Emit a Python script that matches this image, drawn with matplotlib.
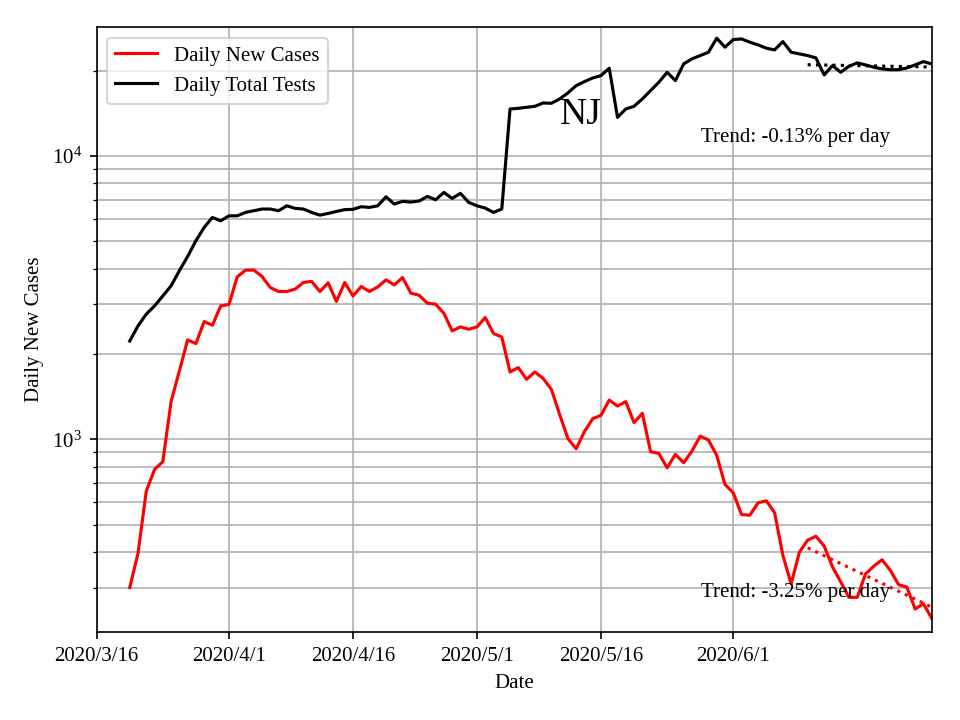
import matplotlib.pyplot as plt
import matplotlib.dates as mdates
import matplotlib.ticker as mticker
import numpy as np
import pandas as pd

plt.rcParams['font.family'] = ['Liberation Serif', 'DejaVu Serif']
plt.rcParams['mathtext.fontset'] = 'stix'
plt.rcParams['font.size'] = 10

# NJ daily numbers, one value per day starting 2020/3/20
first_day = "2020-03-20"
new_cases = [300, 396, 657, 783, 834, 1359, 1742, 2244, 2178, 2605,
             2528, 2958, 2993, 3746, 3955, 3960, 3760, 3434, 3325, 3325,
             3390, 3579, 3610, 3325, 3570, 3067, 3579, 3207, 3463, 3325,
             3453, 3656, 3507, 3725, 3281, 3227, 3024, 3000, 2785, 2415,
             2495, 2447, 2495, 2691, 2363, 2298, 1729, 1792, 1629, 1729,
             1642, 1502, 1225, 1006, 927, 1065, 1183, 1216, 1377, 1311,
             1359, 1146, 1236, 905, 892, 794, 885, 827, 909, 1027,
             995, 878, 693, 648, 543, 540, 597, 607, 551, 390,
             309, 400, 441, 455, 420, 355, 314, 277, 277, 335,
             357, 376, 345, 307, 301, 252, 263, 234]
total_tests = [2225, 2515, 2767, 2958, 3208, 3483, 3936, 4419, 5021, 5598,
               6071, 5907, 6152, 6152, 6324, 6411, 6500, 6500, 6411, 6674,
               6535, 6500, 6324, 6185, 6272, 6374, 6467, 6484, 6622, 6587,
               6674, 7179, 6767, 6918, 6880, 6936, 7200, 7010, 7440, 7085,
               7385, 6860, 6674, 6550, 6324, 6500, 14660, 14735, 14860, 14980,
               15390, 15350, 15900, 16700, 17720, 18310, 18860, 19220, 20410, 13690,
               14660, 14980, 15900, 17020, 18210, 19750, 18460, 21140, 22020, 22620,
               23250, 26050, 24220, 25760, 25900, 25220, 24670, 24020, 23690, 25350,
               23250, 22930, 22620, 22200, 19330, 20850, 19750, 20750, 21310, 20970,
               20580, 20300, 20170, 20170, 20460, 20970, 21540, 21140]

tick_days = ["2020-03-16", "2020-04-01", "2020-04-16", "2020-05-01", "2020-05-16", "2020-06-01"]
tick_labels = ["2020/3/16", "2020/4/1", "2020/4/16", "2020/5/1", "2020/5/16", "2020/6/1"]

trend_days = 16  # last days used for the trend fit
cases_trend_text = "Trend: -3.25% per day"
tests_trend_text = "Trend: -0.13% per day"

dates = pd.date_range(first_day, periods=len(new_cases), freq="D")


def trend_line(values):
    # log-linear fit over the last few days
    t = mdates.date2num(dates[-trend_days:])
    coef = np.polyfit(t, np.log(values[-trend_days:]), 1)
    return dates[-trend_days:], np.exp(np.polyval(coef, t))


fig, ax = plt.subplots(figsize=(6.4, 4.8), dpi=150)
fig.subplots_adjust(left=0.1007, right=0.9705, bottom=0.1222, top=0.962)

ax.plot(dates, new_cases, color="red", label="Daily New Cases")
ax.plot(dates, total_tests, color="black", label="Daily Total Tests")

td, tv = trend_line(np.array(new_cases, dtype=float))
ax.plot(td, tv, color="red", linestyle=":")
td, tv = trend_line(np.array(total_tests, dtype=float))
ax.plot(td, tv, color="black", linestyle=":")

ax.set_yscale("log")
ax.set_ylim(209, 28450)
ax.set_xlim(pd.Timestamp("2020-03-16"), dates[-1])
ax.set_xticks(pd.to_datetime(tick_days))
ax.set_xticklabels(tick_labels)
ax.yaxis.set_minor_formatter(mticker.NullFormatter())

ax.grid(True, which="major")
ax.grid(True, which="minor", axis="y")

ax.text(0.58, 0.841, "NJ", transform=ax.transAxes, fontsize=18,
        ha="center", va="baseline")
ax.text(0.724, 0.8096, tests_trend_text, transform=ax.transAxes, va="baseline")
ax.text(0.724, 0.0584, cases_trend_text, transform=ax.transAxes, va="baseline")

ax.set_xlabel("Date")
ax.set_ylabel("Daily New Cases")
ax.legend(loc="upper left")

plt.savefig("out.png", dpi=150)
